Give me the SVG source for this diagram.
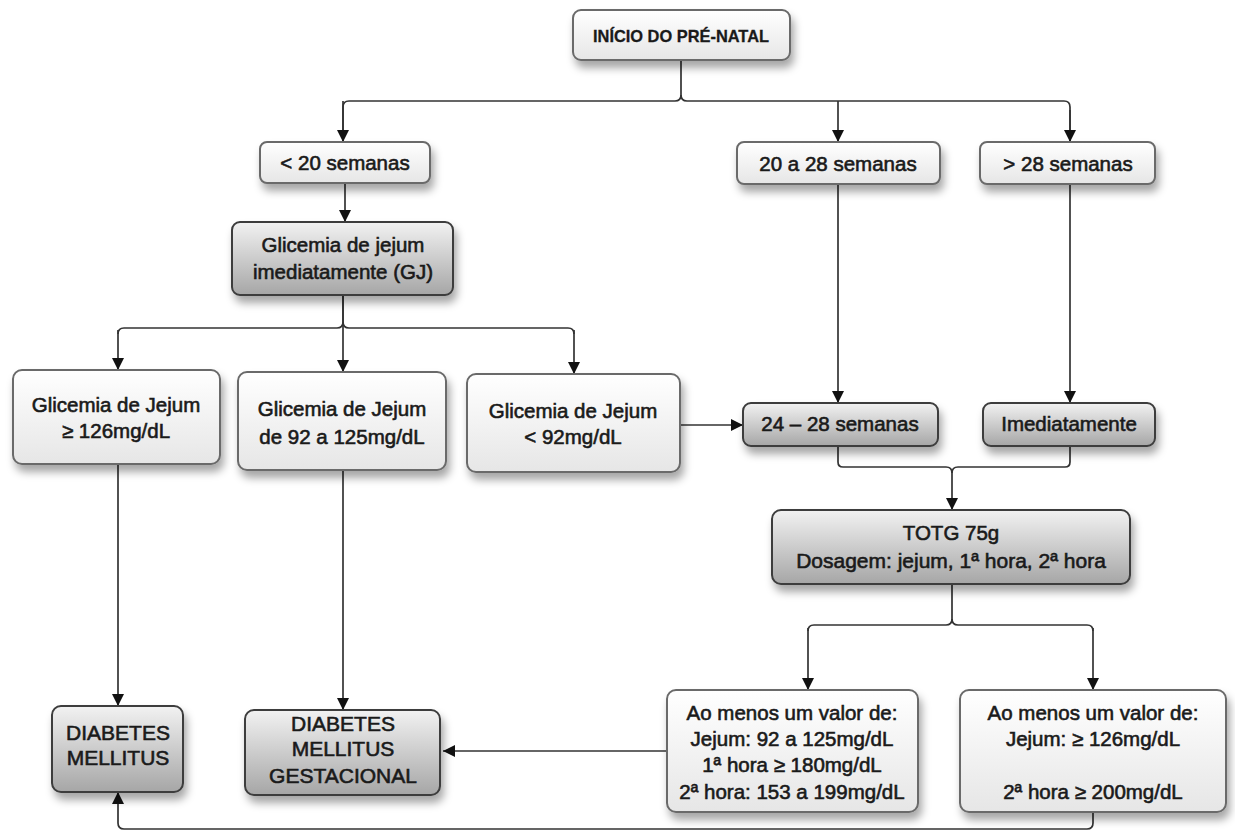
<svg xmlns="http://www.w3.org/2000/svg" width="1235" height="832" viewBox="0 0 1235 832">
<defs>
<linearGradient id="gw" x1="0" y1="0" x2="0" y2="1"><stop offset="0" stop-color="#ffffff"/><stop offset="1" stop-color="#e6e6e6"/></linearGradient>
<linearGradient id="gg" x1="0" y1="0" x2="0" y2="1"><stop offset="0" stop-color="#f2f2f2"/><stop offset="1" stop-color="#a6a6a6"/></linearGradient>
<filter id="sh" x="-20%" y="-20%" width="140%" height="160%"><feDropShadow dx="3" dy="7" stdDeviation="4" flood-color="#000" flood-opacity="0.35"/></filter>
<marker id="ar" viewBox="0 0 10 10" refX="10" refY="5" markerWidth="12" markerHeight="12" markerUnits="userSpaceOnUse" orient="auto"><path d="M0,0 L10,5 L0,10 Z" fill="#111"/></marker>
<style>
.w{fill:url(#gw);stroke:#6a6a6a;stroke-width:2;filter:url(#sh)}
.g{fill:url(#gg);stroke:#3c3c3c;stroke-width:2;filter:url(#sh)}
text{font-family:"Liberation Sans",Arial,sans-serif;font-size:20.5px;fill:#1a1a1a;stroke:#1a1a1a;stroke-width:0.6;text-anchor:middle}
.t{font-weight:bold;font-size:17px;stroke-width:0.3}
.b{font-size:21px}
.c{fill:none;stroke:#333;stroke-width:1.7}
.a{marker-end:url(#ar)}
</style>
</defs>
<g id="connectors">
<path class="c" d="M681,60 V95 Q681,101 675,101 H349 Q343,101 343,107 V142"/>
<path class="c a" d="M343,101 V142"/>
<path class="c" d="M681,95 Q681,101 687,101 H1064 Q1070,101 1070,107 V142"/>
<path class="c a" d="M838,101 V142"/>
<path class="c a" d="M1070,110 V142"/>
<path class="c a" d="M345,183 V222"/>
<path class="c" d="M343,295 V322 Q343,328 337,328 H124 Q118,328 118,334"/>
<path class="c a" d="M118,330 V370"/>
<path class="c a" d="M343,295 V372"/>
<path class="c" d="M343,322 Q343,328 349,328 H568 Q574,328 574,334"/>
<path class="c a" d="M574,330 V374"/>
<path class="c a" d="M838,184 V403"/>
<path class="c a" d="M1070,184 V403"/>
<path class="c a" d="M680,425 H743"/>
<path class="c" d="M838,446 V462 Q838,467 843,467 H946 Q952,467 952,473 M952,473 Q952,467 958,467 H1065 Q1070,467 1070,462 V446"/>
<path class="c a" d="M952,470 V510"/>
<path class="c" d="M952,584 V619 Q952,625 946,625 H814 Q808,625 808,631"/>
<path class="c a" d="M808,628 V690"/>
<path class="c" d="M952,619 Q952,625 958,625 H1087 Q1093,625 1093,631"/>
<path class="c a" d="M1093,628 V690"/>
<path class="c a" d="M667,751 H443"/>
<path class="c a" d="M343,470 V710"/>
<path class="c a" d="M118,464 V706"/>
<path class="c a" d="M1093,812 V823 Q1093,829 1087,829 H124 Q118,829 118,823 V792"/>
</g>
<g id="n-inicio"><rect class="w" x="573" y="10" width="217" height="50" rx="8"/><text class="t" x="681" y="42" textLength="176" lengthAdjust="spacingAndGlyphs">INÍCIO DO PRÉ-NATAL</text></g>
<g id="n-lt20"><rect class="w" x="260" y="142" width="170" height="41" rx="7"/><text x="345" y="170">&lt; 20 semanas</text></g>
<g id="n-20a28"><rect class="w" x="737" y="142" width="203" height="42" rx="7"/><text x="838" y="171">20 a 28 semanas</text></g>
<g id="n-gt28"><rect class="w" x="980" y="142" width="175" height="42" rx="7"/><text x="1068" y="171">&gt; 28 semanas</text></g>
<g id="n-gj"><rect class="g" x="232" y="222" width="221" height="73" rx="8"/><text x="343" y="252">Glicemia de jejum</text><text x="343" y="279">imediatamente (GJ)</text></g>
<g id="n-gj126"><rect class="w" x="13" y="370" width="207" height="94" rx="9"/><text x="116" y="412">Glicemia de Jejum</text><text x="116" y="438">≥ 126mg/dL</text></g>
<g id="n-gj92125"><rect class="w" x="238" y="372" width="208" height="98" rx="9"/><text x="342" y="416">Glicemia de Jejum</text><text x="342" y="444">de 92 a 125mg/dL</text></g>
<g id="n-gj92"><rect class="w" x="467" y="374" width="213" height="98" rx="9"/><text x="573" y="418">Glicemia de Jejum</text><text x="573" y="444">&lt; 92mg/dL</text></g>
<g id="n-2428"><rect class="g" x="743" y="403" width="195" height="43" rx="8"/><text x="840" y="431">24 – 28 semanas</text></g>
<g id="n-imed"><rect class="g" x="983" y="403" width="172" height="43" rx="8"/><text x="1069" y="431">Imediatamente</text></g>
<g id="n-totg"><rect class="g" x="772" y="510" width="358" height="74" rx="9"/><text x="951" y="540">TOTG 75g</text><text class="b" x="951" y="568">Dosagem: jejum, 1ª hora, 2ª hora</text></g>
<g id="n-res1"><rect class="w" x="667" y="690" width="251" height="122" rx="9"/><text x="792" y="720">Ao menos um valor de:</text><text x="792" y="746">Jejum: 92 a 125mg/dL</text><text x="792" y="772">1ª hora ≥ 180mg/dL</text><text x="792" y="799">2ª hora: 153 a 199mg/dL</text></g>
<g id="n-res2"><rect class="w" x="960" y="690" width="266" height="122" rx="9"/><text x="1093" y="720">Ao menos um valor de:</text><text x="1093" y="746">Jejum: ≥ 126mg/dL</text><text x="1093" y="799">2ª hora ≥ 200mg/dL</text></g>
<g id="n-dm"><rect class="g" x="52" y="706" width="131" height="86" rx="9"/><text class="b" x="118" y="740">DIABETES</text><text class="b" x="118" y="765">MELLITUS</text></g>
<g id="n-dmg"><rect class="g" x="245" y="710" width="195" height="85" rx="9"/><text class="b" x="343" y="731">DIABETES</text><text class="b" x="343" y="756">MELLITUS</text><text class="b" x="343" y="783">GESTACIONAL</text></g>
</svg>
